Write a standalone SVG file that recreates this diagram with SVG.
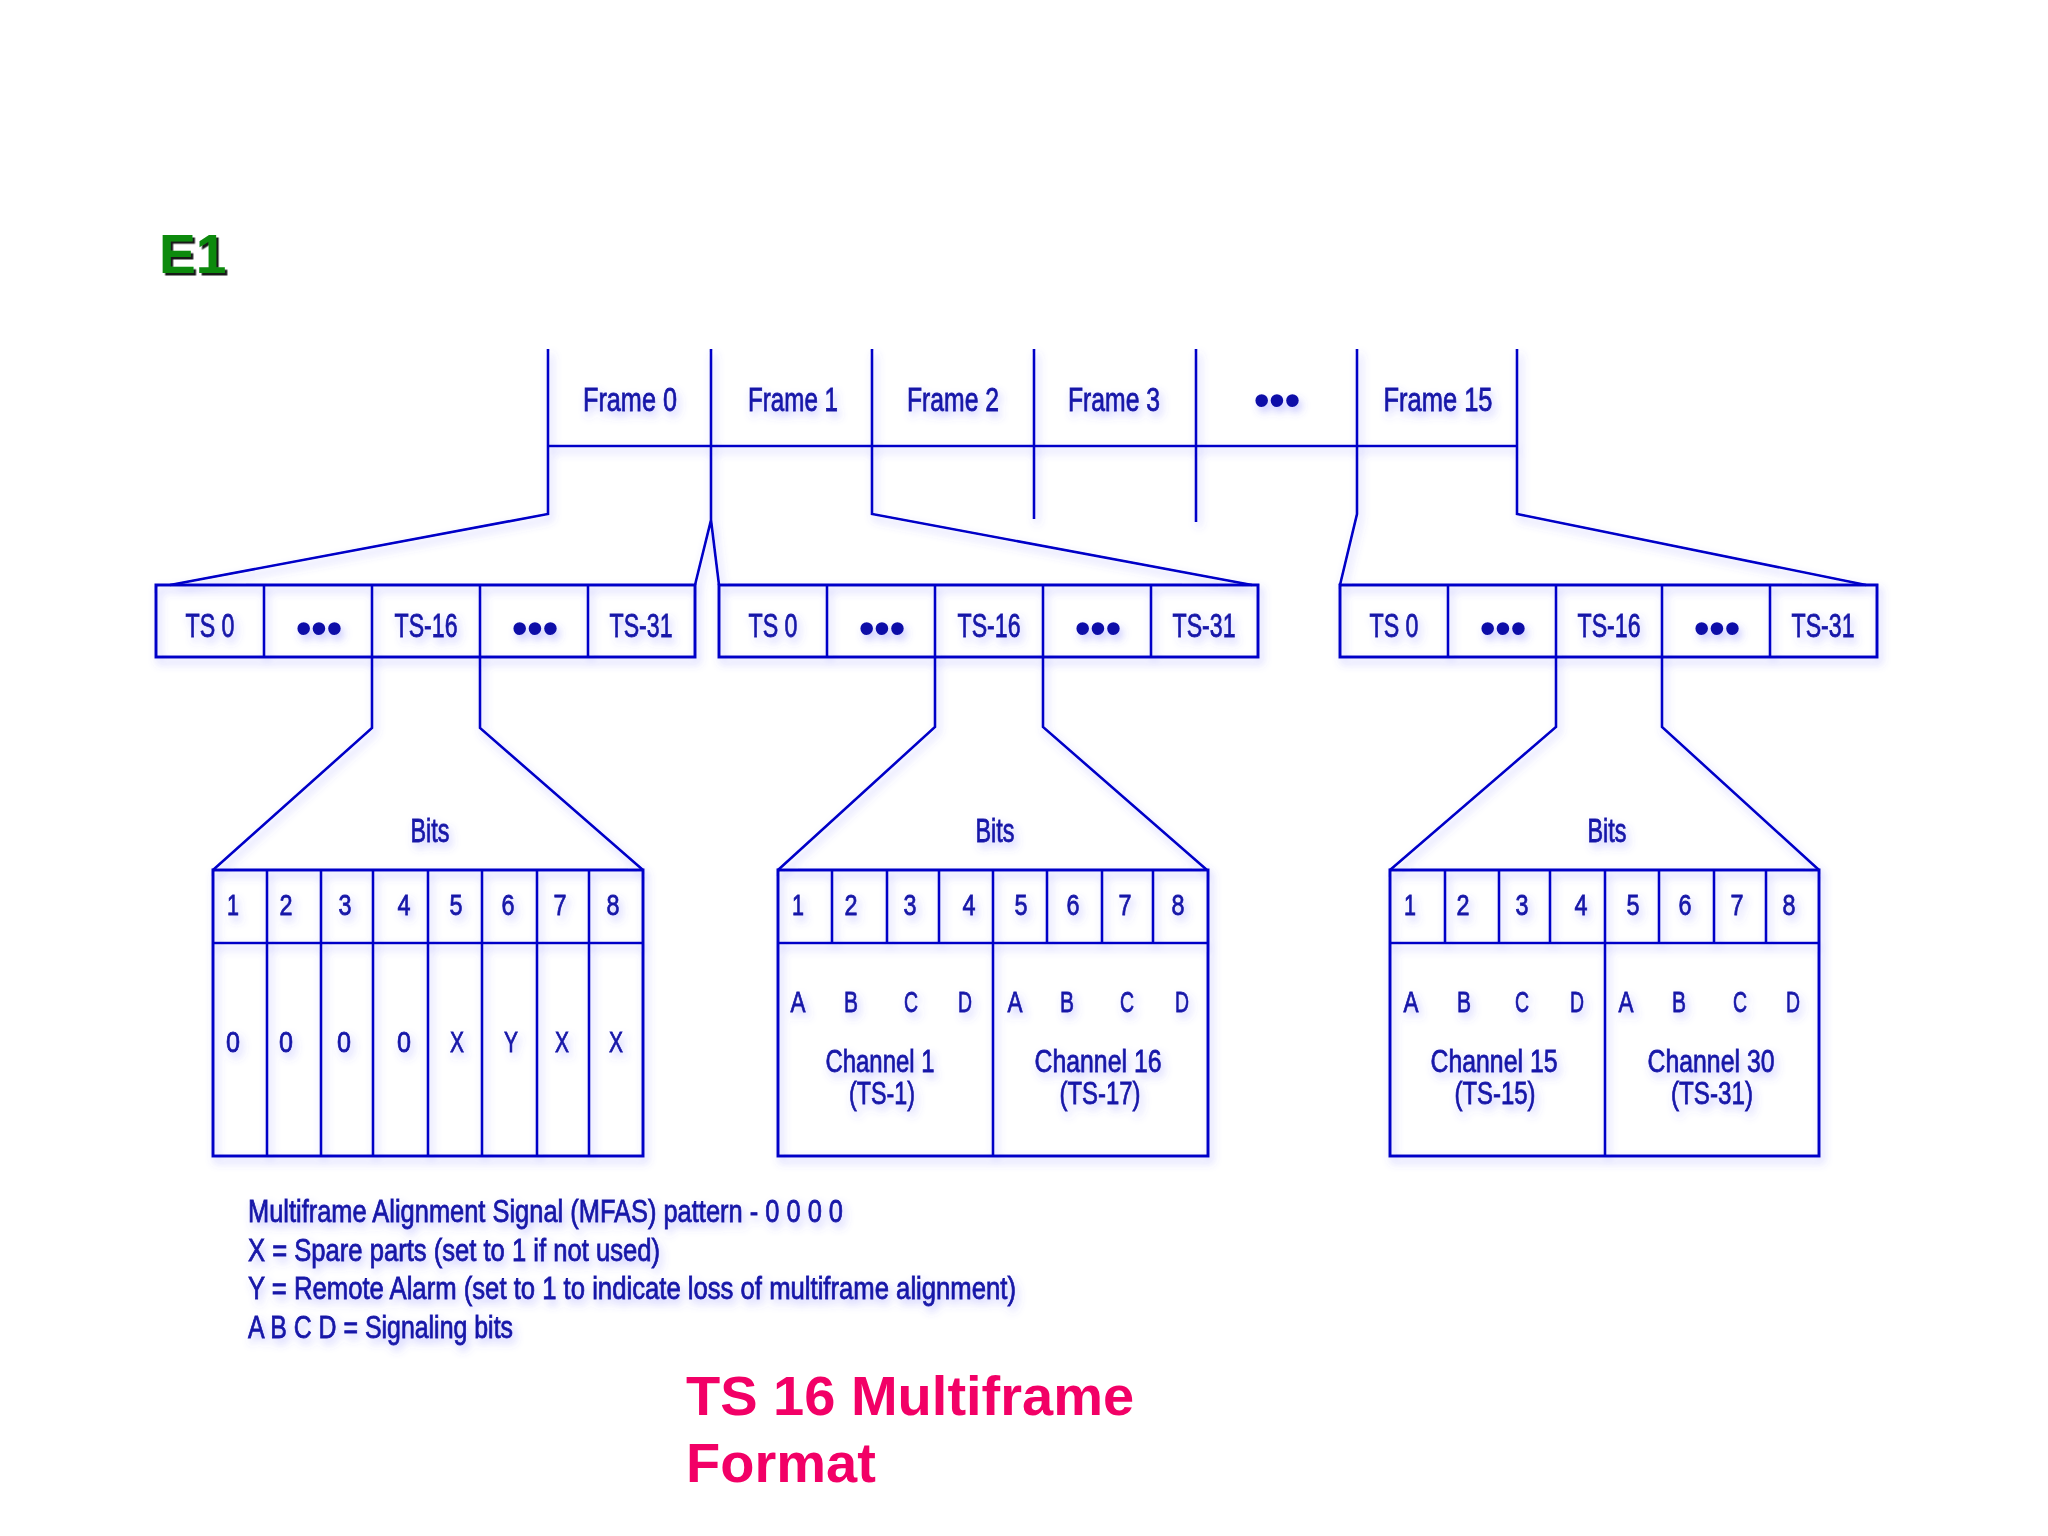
<svg xmlns="http://www.w3.org/2000/svg" width="2048" height="1536" viewBox="0 0 2048 1536">
<defs>
<filter id="glow" x="-5%" y="-5%" width="110%" height="115%">
<feGaussianBlur in="SourceAlpha" stdDeviation="4" result="b"/>
<feOffset in="b" dx="3" dy="5" result="o"/>
<feFlood flood-color="#5a5aff" flood-opacity="0.35"/>
<feComposite in2="o" operator="in" result="s"/>
<feMerge><feMergeNode in="s"/><feMergeNode in="SourceGraphic"/></feMerge>
</filter>
<filter id="e1sh" x="-20%" y="-20%" width="140%" height="140%">
<feDropShadow dx="2.5" dy="2.5" stdDeviation="0.6" flood-color="#000" flood-opacity="0.9"/>
</filter>
</defs>
<style>
.ln{fill:none;stroke:#0000c8;stroke-width:2.6;stroke-linejoin:miter}
.bx{fill:none;stroke:#0000c8;stroke-width:3}
.t{font-family:"Liberation Sans",Arial,sans-serif;fill:#1414a8;stroke:#1414a8;stroke-width:0.8;text-anchor:middle}
.f33{font-size:33px}
.n{font-size:30px}
.dots{font-family:"Liberation Sans",Arial,sans-serif;font-size:44px;fill:#0a0aa8;text-anchor:middle;font-weight:bold}
.lg{font-family:"Liberation Sans",Arial,sans-serif;font-size:31px;fill:#1414a8;stroke:#1414a8;stroke-width:0.8}
.ttl{font-family:"Liberation Sans",Arial,sans-serif;font-size:56px;font-weight:bold;fill:#f20066}
</style>
<rect width="2048" height="1536" fill="#ffffff"/>
<text id="e1" x="159" y="273" font-family="Liberation Sans,Arial,sans-serif" font-size="55" font-weight="bold" fill="#0a8a10" filter="url(#e1sh)">E1</text>
<g filter="url(#glow)">
<g id="frames">
<path class="ln" d="M548,349V446M711,349V446M872,349V446M1034,349V446M1196,349V446M1357,349V446M1517,349V446M548,446H1517"/>
<text class="t f33" x="630" y="411" textLength="94" lengthAdjust="spacingAndGlyphs">Frame 0</text>
<text class="t f33" x="793" y="411" textLength="90" lengthAdjust="spacingAndGlyphs">Frame 1</text>
<text class="t f33" x="953" y="411" textLength="92" lengthAdjust="spacingAndGlyphs">Frame 2</text>
<text class="t f33" x="1114" y="411" textLength="92" lengthAdjust="spacingAndGlyphs">Frame 3</text>
<text class="dots" x="1277" y="415">•••</text>
<text class="t f33" x="1438" y="411" textLength="109" lengthAdjust="spacingAndGlyphs">Frame 15</text>
</g>
<g id="connectors">
<path class="ln" d="M548,446V514L170,585M711,446V520L695,585M711,520L719,585M872,446V514L1252,585M1034,446V519M1196,446V522M1357,446V514L1340,585M1517,446V514L1866,585"/>
<path class="ln" d="M372,657V728L213,870M480,657V728L643,870M935,657V727L778,870M1043,657V727L1207,870M1556,657V727L1390,870M1662,657V727L1819,870"/>
</g>
<g id="tsbox0">
<rect class="bx" x="156" y="585" width="539" height="72"/>
<path class="ln" d="M264,585V657M372,585V657M480,585V657M588,585V657"/>
<text class="t f33" x="210" y="637" textLength="49" lengthAdjust="spacingAndGlyphs">TS 0</text>
<text class="dots" x="319" y="643">•••</text>
<text class="t f33" x="426" y="637" textLength="63" lengthAdjust="spacingAndGlyphs">TS-16</text>
<text class="dots" x="535" y="643">•••</text>
<text class="t f33" x="641" y="637" textLength="63" lengthAdjust="spacingAndGlyphs">TS-31</text>
</g>
<g id="tsbox1">
<rect class="bx" x="719" y="585" width="539" height="72"/>
<path class="ln" d="M827,585V657M935,585V657M1043,585V657M1151,585V657"/>
<text class="t f33" x="773" y="637" textLength="49" lengthAdjust="spacingAndGlyphs">TS 0</text>
<text class="dots" x="882" y="643">•••</text>
<text class="t f33" x="989" y="637" textLength="63" lengthAdjust="spacingAndGlyphs">TS-16</text>
<text class="dots" x="1098" y="643">•••</text>
<text class="t f33" x="1204" y="637" textLength="63" lengthAdjust="spacingAndGlyphs">TS-31</text>
</g>
<g id="tsbox15">
<rect class="bx" x="1340" y="585" width="537" height="72"/>
<path class="ln" d="M1448,585V657M1556,585V657M1662,585V657M1770,585V657"/>
<text class="t f33" x="1394" y="637" textLength="49" lengthAdjust="spacingAndGlyphs">TS 0</text>
<text class="dots" x="1503" y="643">•••</text>
<text class="t f33" x="1609" y="637" textLength="63" lengthAdjust="spacingAndGlyphs">TS-16</text>
<text class="dots" x="1717" y="643">•••</text>
<text class="t f33" x="1823" y="637" textLength="63" lengthAdjust="spacingAndGlyphs">TS-31</text>
</g>
<g id="bits0">
<text class="t f33" x="430" y="842" textLength="39" lengthAdjust="spacingAndGlyphs">Bits</text>
<rect class="bx" x="213" y="870" width="430" height="286"/>
<path class="ln" d="M213,943H643M267,870V1156M321,870V1156M373,870V1156M428,870V1156M482,870V1156M537,870V1156M589,870V1156"/>
<g class="t n">
<text x="233" y="915" textLength="12" lengthAdjust="spacingAndGlyphs">1</text>
<text x="286" y="915" textLength="13" lengthAdjust="spacingAndGlyphs">2</text>
<text x="345" y="915" textLength="13" lengthAdjust="spacingAndGlyphs">3</text>
<text x="404" y="915" textLength="13" lengthAdjust="spacingAndGlyphs">4</text>
<text x="456" y="915" textLength="13" lengthAdjust="spacingAndGlyphs">5</text>
<text x="508" y="915" textLength="13" lengthAdjust="spacingAndGlyphs">6</text>
<text x="560" y="915" textLength="13" lengthAdjust="spacingAndGlyphs">7</text>
<text x="613" y="915" textLength="13" lengthAdjust="spacingAndGlyphs">8</text>
<text x="233" y="1052" textLength="14" lengthAdjust="spacingAndGlyphs">0</text>
<text x="286" y="1052" textLength="14" lengthAdjust="spacingAndGlyphs">0</text>
<text x="344" y="1052" textLength="14" lengthAdjust="spacingAndGlyphs">0</text>
<text x="404" y="1052" textLength="14" lengthAdjust="spacingAndGlyphs">0</text>
<text x="457" y="1052" textLength="14" lengthAdjust="spacingAndGlyphs">X</text>
<text x="511" y="1052" textLength="14" lengthAdjust="spacingAndGlyphs">Y</text>
<text x="562" y="1052" textLength="14" lengthAdjust="spacingAndGlyphs">X</text>
<text x="616" y="1052" textLength="14" lengthAdjust="spacingAndGlyphs">X</text>
</g>
</g>
<g id="bits1">
<text class="t f33" x="995" y="842" textLength="39" lengthAdjust="spacingAndGlyphs">Bits</text>
<rect class="bx" x="778" y="870" width="430" height="286"/>
<path class="ln" d="M778,943H1208M832,870V943M887,870V943M939,870V943M993,870V1156M1047,870V943M1102,870V943M1153,870V943"/>
<g class="t n">
<text x="798" y="915" textLength="12" lengthAdjust="spacingAndGlyphs">1</text>
<text x="851" y="915" textLength="13" lengthAdjust="spacingAndGlyphs">2</text>
<text x="910" y="915" textLength="13" lengthAdjust="spacingAndGlyphs">3</text>
<text x="969" y="915" textLength="13" lengthAdjust="spacingAndGlyphs">4</text>
<text x="1021" y="915" textLength="13" lengthAdjust="spacingAndGlyphs">5</text>
<text x="1073" y="915" textLength="13" lengthAdjust="spacingAndGlyphs">6</text>
<text x="1125" y="915" textLength="13" lengthAdjust="spacingAndGlyphs">7</text>
<text x="1178" y="915" textLength="13" lengthAdjust="spacingAndGlyphs">8</text>
<text x="798" y="1012" textLength="15" lengthAdjust="spacingAndGlyphs">A</text>
<text x="851" y="1012" textLength="14" lengthAdjust="spacingAndGlyphs">B</text>
<text x="911" y="1012" textLength="14" lengthAdjust="spacingAndGlyphs">C</text>
<text x="965" y="1012" textLength="14" lengthAdjust="spacingAndGlyphs">D</text>
<text x="1015" y="1012" textLength="15" lengthAdjust="spacingAndGlyphs">A</text>
<text x="1067" y="1012" textLength="14" lengthAdjust="spacingAndGlyphs">B</text>
<text x="1127" y="1012" textLength="14" lengthAdjust="spacingAndGlyphs">C</text>
<text x="1182" y="1012" textLength="14" lengthAdjust="spacingAndGlyphs">D</text>
</g>
<g class="t" font-size="32">
<text x="880" y="1072" textLength="109" lengthAdjust="spacingAndGlyphs">Channel 1</text>
<text x="882" y="1104" textLength="66" lengthAdjust="spacingAndGlyphs">(TS-1)</text>
<text x="1098" y="1072" textLength="127" lengthAdjust="spacingAndGlyphs">Channel 16</text>
<text x="1100" y="1104" textLength="81" lengthAdjust="spacingAndGlyphs">(TS-17)</text>
</g>
</g>
<g id="bits15">
<text class="t f33" x="1607" y="842" textLength="39" lengthAdjust="spacingAndGlyphs">Bits</text>
<rect class="bx" x="1390" y="870" width="429" height="286"/>
<path class="ln" d="M1390,943H1819M1445,870V943M1499,870V943M1550,870V943M1605,870V1156M1659,870V943M1714,870V943M1766,870V943"/>
<g class="t n">
<text x="1410" y="915" textLength="12" lengthAdjust="spacingAndGlyphs">1</text>
<text x="1463" y="915" textLength="13" lengthAdjust="spacingAndGlyphs">2</text>
<text x="1522" y="915" textLength="13" lengthAdjust="spacingAndGlyphs">3</text>
<text x="1581" y="915" textLength="13" lengthAdjust="spacingAndGlyphs">4</text>
<text x="1633" y="915" textLength="13" lengthAdjust="spacingAndGlyphs">5</text>
<text x="1685" y="915" textLength="13" lengthAdjust="spacingAndGlyphs">6</text>
<text x="1737" y="915" textLength="13" lengthAdjust="spacingAndGlyphs">7</text>
<text x="1789" y="915" textLength="13" lengthAdjust="spacingAndGlyphs">8</text>
<text x="1411" y="1012" textLength="15" lengthAdjust="spacingAndGlyphs">A</text>
<text x="1464" y="1012" textLength="14" lengthAdjust="spacingAndGlyphs">B</text>
<text x="1522" y="1012" textLength="14" lengthAdjust="spacingAndGlyphs">C</text>
<text x="1577" y="1012" textLength="14" lengthAdjust="spacingAndGlyphs">D</text>
<text x="1626" y="1012" textLength="15" lengthAdjust="spacingAndGlyphs">A</text>
<text x="1679" y="1012" textLength="14" lengthAdjust="spacingAndGlyphs">B</text>
<text x="1740" y="1012" textLength="14" lengthAdjust="spacingAndGlyphs">C</text>
<text x="1793" y="1012" textLength="14" lengthAdjust="spacingAndGlyphs">D</text>
</g>
<g class="t" font-size="32">
<text x="1494" y="1072" textLength="127" lengthAdjust="spacingAndGlyphs">Channel 15</text>
<text x="1495" y="1104" textLength="81" lengthAdjust="spacingAndGlyphs">(TS-15)</text>
<text x="1711" y="1072" textLength="127" lengthAdjust="spacingAndGlyphs">Channel 30</text>
<text x="1712" y="1104" textLength="82" lengthAdjust="spacingAndGlyphs">(TS-31)</text>
</g>
</g>
<g id="legend">
<text class="lg" x="248" y="1222" textLength="595" lengthAdjust="spacingAndGlyphs">Multiframe Alignment Signal (MFAS) pattern - 0 0 0 0</text>
<text class="lg" x="248" y="1261" textLength="412" lengthAdjust="spacingAndGlyphs">X  = Spare parts (set to 1 if not used)</text>
<text class="lg" x="248" y="1299" textLength="768" lengthAdjust="spacingAndGlyphs">Y  = Remote Alarm (set to 1 to indicate loss of multiframe alignment)</text>
<text class="lg" x="248" y="1338" textLength="265" lengthAdjust="spacingAndGlyphs">A B C D = Signaling bits</text>
</g>
</g>
<g id="title">
<text class="ttl" x="686" y="1415">TS 16 Multiframe</text>
<text class="ttl" x="686" y="1482">Format</text>
</g>
</svg>
